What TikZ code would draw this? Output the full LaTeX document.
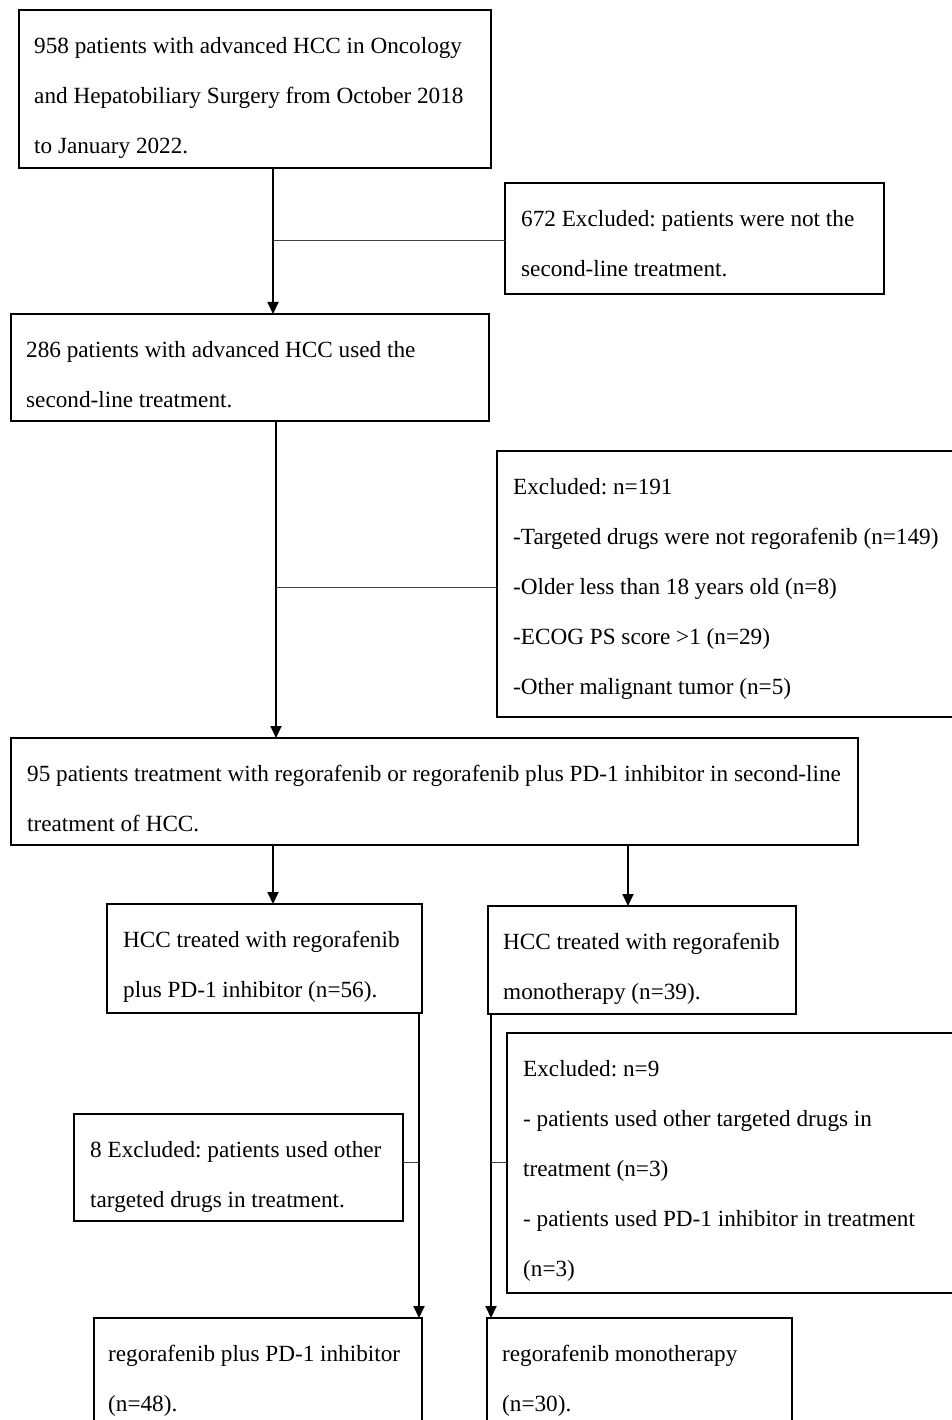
\documentclass[tikz,border=0pt]{standalone}
\usepackage{fontspec}
\setmainfont{Liberation Serif}
\usetikzlibrary{arrows.meta,calc}
\frenchspacing
\begin{document}
\begin{tikzpicture}[x=1pt,y=-1pt,
  box/.style={draw=black, line width=1.8pt, inner sep=0pt, outer sep=0pt, anchor=north west},
  txt/.style={anchor=north west, inner sep=0pt, align=left, font=\fontsize{23.2}{50}\selectfont\frenchspacing},
  arr/.style={line width=1.8pt, -{Triangle[width=11pt,length=12pt]}},
  link/.style={line width=1pt, draw=black!75}]
\useasboundingbox (0,0) rectangle (952,1420);
\fill[white] (0,0) rectangle (952,1420);
% boxes
\node[box, minimum width=472, minimum height=158] (b1) at (19,10) {};
\node[box, minimum width=379, minimum height=111] (b2) at (505,183) {};
\node[box, minimum width=478, minimum height=107] (b3) at (11,314) {};
\node[box, minimum width=470, minimum height=266] (b4) at (497,451) {};
\node[box, minimum width=847, minimum height=107] (b5) at (11,738) {};
\node[box, minimum width=315, minimum height=109] (b6) at (107,904) {};
\node[box, minimum width=308, minimum height=108] (b7) at (488,906) {};
\node[box, minimum width=329, minimum height=107] (b8) at (74,1114) {};
\node[box, minimum width=460, minimum height=260] (b9) at (507,1033) {};
\node[box, minimum width=328, minimum height=130] (b10) at (94,1318) {};
\node[box, minimum width=305, minimum height=130] (b11) at (487,1318) {};
% texts
\node[txt] (t1) at (34,33) {\rule{0pt}{20pt}958 patients with advanced HCC in Oncology\\and Hepatobiliary Surgery from October 2018\\to January 2022.};
\node[txt] (t2) at (521,206) {\rule{0pt}{20pt}672 Excluded: patients were not the\\second-line treatment.};
\node[txt] (t3) at (26,337) {\rule{0pt}{20pt}286 patients with advanced HCC used the\\second-line treatment.};
\node[txt] (t4) at (513,474) {\rule{0pt}{20pt}Excluded: n=191\\-Targeted drugs were not regorafenib (n=149)\\-Older less than 18 years old (n=8)\\-ECOG PS score >1 (n=29)\\-Other malignant tumor (n=5)};
\node[txt] (t5) at (27,761) {\rule{0pt}{20pt}95 patients treatment with regorafenib or regorafenib plus PD-1 inhibitor in second-line\\treatment of HCC.};
\node[txt] (t6) at (123,927) {\rule{0pt}{20pt}HCC treated with regorafenib\\plus PD-1 inhibitor (n=56).};
\node[txt] (t7) at (503,929) {\rule{0pt}{20pt}HCC treated with regorafenib\\monotherapy (n=39).};
\node[txt] (t8) at (90,1137) {\rule{0pt}{20pt}8 Excluded: patients used other\\targeted drugs in treatment.};
\node[txt] (t9) at (523,1056) {\rule{0pt}{20pt}Excluded: n=9\\- patients used other targeted drugs in\\treatment (n=3)\\- patients used PD-1 inhibitor in treatment\\(n=3)};
\node[txt] (t10) at (108,1341) {\rule{0pt}{20pt}regorafenib plus PD-1 inhibitor\\(n=48).};
\node[txt] (t11) at (502,1341) {\rule{0pt}{20pt}regorafenib monotherapy\\(n=30).};
% connector positions
\coordinate (x1) at (273,0);
\coordinate (j1) at (273,241);
\coordinate (x2) at (276,0);
\coordinate (j2) at (276,587);
\coordinate (x3) at (273,0);
\coordinate (x4) at (628,0);
\coordinate (x5) at (419,0);
\coordinate (j3) at (419,1162);
\coordinate (x6) at (491,0);
\coordinate (j4) at (491,1162);
% connectors
\draw[arr] (b1.south -| x1) -- (b3.north -| x1);
\draw[link] (j1) -- (j1 -| b2.west);
\draw[arr] (b3.south -| x2) -- (b5.north -| x2);
\draw[link] (j2) -- (j2 -| b4.west);
\draw[arr] (b5.south -| x3) -- (b6.north -| x3);
\draw[arr] (b5.south -| x4) -- (b7.north -| x4);
\draw[arr] (b6.south -| x5) -- (b10.north -| x5);
\draw[link] (j3) -- (j3 -| b8.east);
\draw[arr] (b7.south -| x6) -- (b11.north -| x6);
\draw[link] (j4) -- (j4 -| b9.west);
\end{tikzpicture}
\end{document}
